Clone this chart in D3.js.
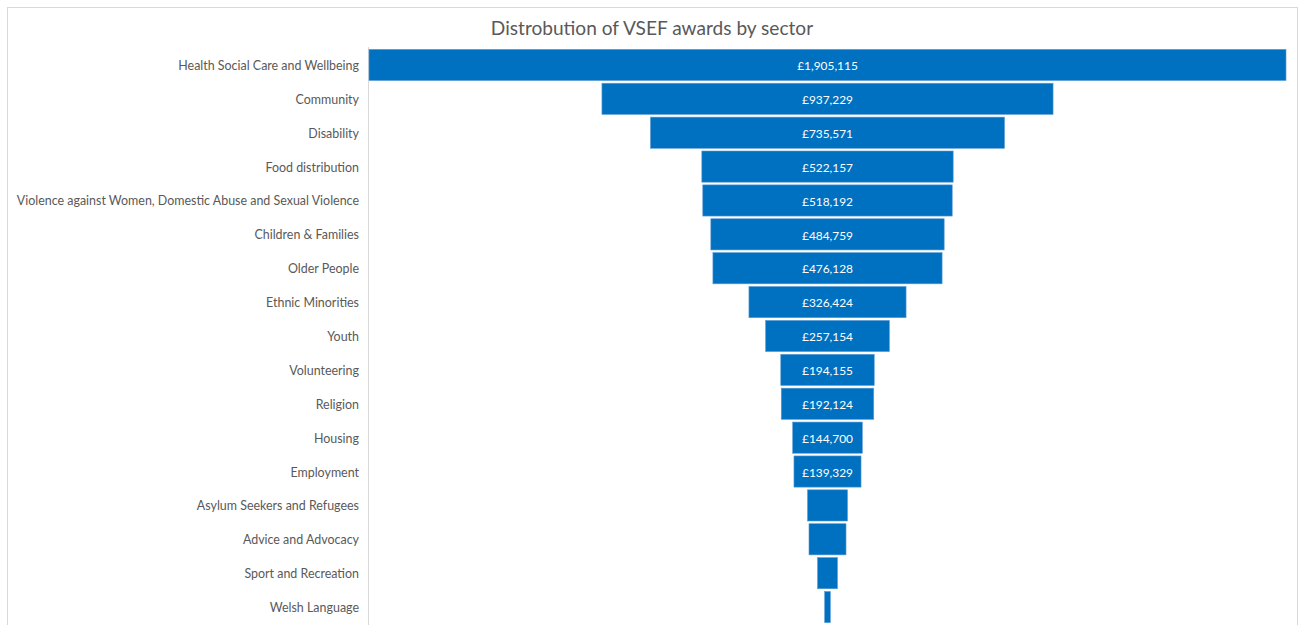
<!DOCTYPE html>
<html>
<head>
<meta charset="utf-8">
<script src="https://cdn.jsdelivr.net/npm/d3@7"></script>
<style>
  html, body { margin: 0; padding: 0; background: #fff; }
  svg { display: block; }
</style>
</head>
<body>
<svg id="chart" width="1303" height="625"></svg>
<script>
const title = "Distrobution of VSEF awards by sector";
const categories = [
  "Health Social Care and Wellbeing",
  "Community",
  "Disability",
  "Food distribution",
  "Violence against Women, Domestic Abuse and Sexual Violence",
  "Children & Families",
  "Older People",
  "Ethnic Minorities",
  "Youth",
  "Volunteering",
  "Religion",
  "Housing",
  "Employment",
  "Asylum Seekers and Refugees",
  "Advice and Advocacy",
  "Sport and Recreation",
  "Welsh Language"
];
const values = [1905115, 937229, 735571, 522157, 518192, 484759, 476128, 326424, 257154, 194155, 192124, 144700, 139329, 83100, 76900, 41500, 11800];
const showLabel = [true, true, true, true, true, true, true, true, true, true, true, true, true, false, false, false, false];

const svg = d3.select("#chart");
const W = 1303, H = 625;
const plotLeft = 369, plotRight = 1286, plotTop = 48, plotBottom = 624;
const cx = (plotLeft + plotRight) / 2;
const font = "Lato, 'Open Sans', sans-serif";

// chart border
svg.append("rect")
  .attr("x", 7.5).attr("y", 7.5)
  .attr("width", 1290).attr("height", 640)
  .attr("fill", "#fff").attr("stroke", "#d9d9d9").attr("stroke-width", 1);

// title
svg.append("text")
  .attr("x", 652).attr("y", 35)
  .attr("text-anchor", "middle")
  .attr("font-family", font)
  .attr("font-size", 19.1)
  .attr("fill", "#595959")
  .text(title);

const y = d3.scaleBand()
  .domain(categories)
  .range([plotTop, plotBottom])
  .paddingInner(0.08)
  .paddingOuter(0.04);

const x = d3.scaleLinear()
  .domain([0, d3.max(values)])
  .range([0, plotRight - plotLeft]);

const data = categories.map((c, i) => ({ c, v: values[i], show: showLabel[i] }));

// axis line
svg.append("line")
  .attr("x1", plotLeft - 0.5).attr("x2", plotLeft - 0.5)
  .attr("y1", plotTop - 1).attr("y2", H)
  .attr("stroke", "#d9d9d9").attr("stroke-width", 1);

// category labels via axis
const yAxis = d3.axisLeft(y).tickSize(0).tickPadding(10);
const gy = svg.append("g")
  .attr("transform", `translate(${plotLeft},1)`)
  .call(yAxis);
gy.select(".domain").remove();
gy.selectAll("text")
  .attr("font-family", font)
  .attr("font-size", 12.45)
  .attr("fill", "#595959");

// bars
svg.append("g").selectAll("rect")
  .data(data)
  .join("rect")
  .attr("x", d => cx - x(d.v) / 2)
  .attr("y", d => y(d.c))
  .attr("width", d => x(d.v))
  .attr("height", y.bandwidth())
  .attr("fill", "#0070C0")
  .attr("stroke", "#5b9bd5")
  .attr("stroke-width", 0.6);

// value labels
const fmt = d3.format(",");
svg.append("g").selectAll("text")
  .data(data.filter(d => d.show))
  .join("text")
  .attr("x", cx)
  .attr("y", d => y(d.c) + y.bandwidth() / 2 + 1)
  .attr("dy", "0.35em")
  .attr("text-anchor", "middle")
  .attr("font-family", font)
  .attr("font-size", 11.9)
  .attr("fill", "#ffffff")
  .text(d => "£" + fmt(d.v));
</script>
</body>
</html>
